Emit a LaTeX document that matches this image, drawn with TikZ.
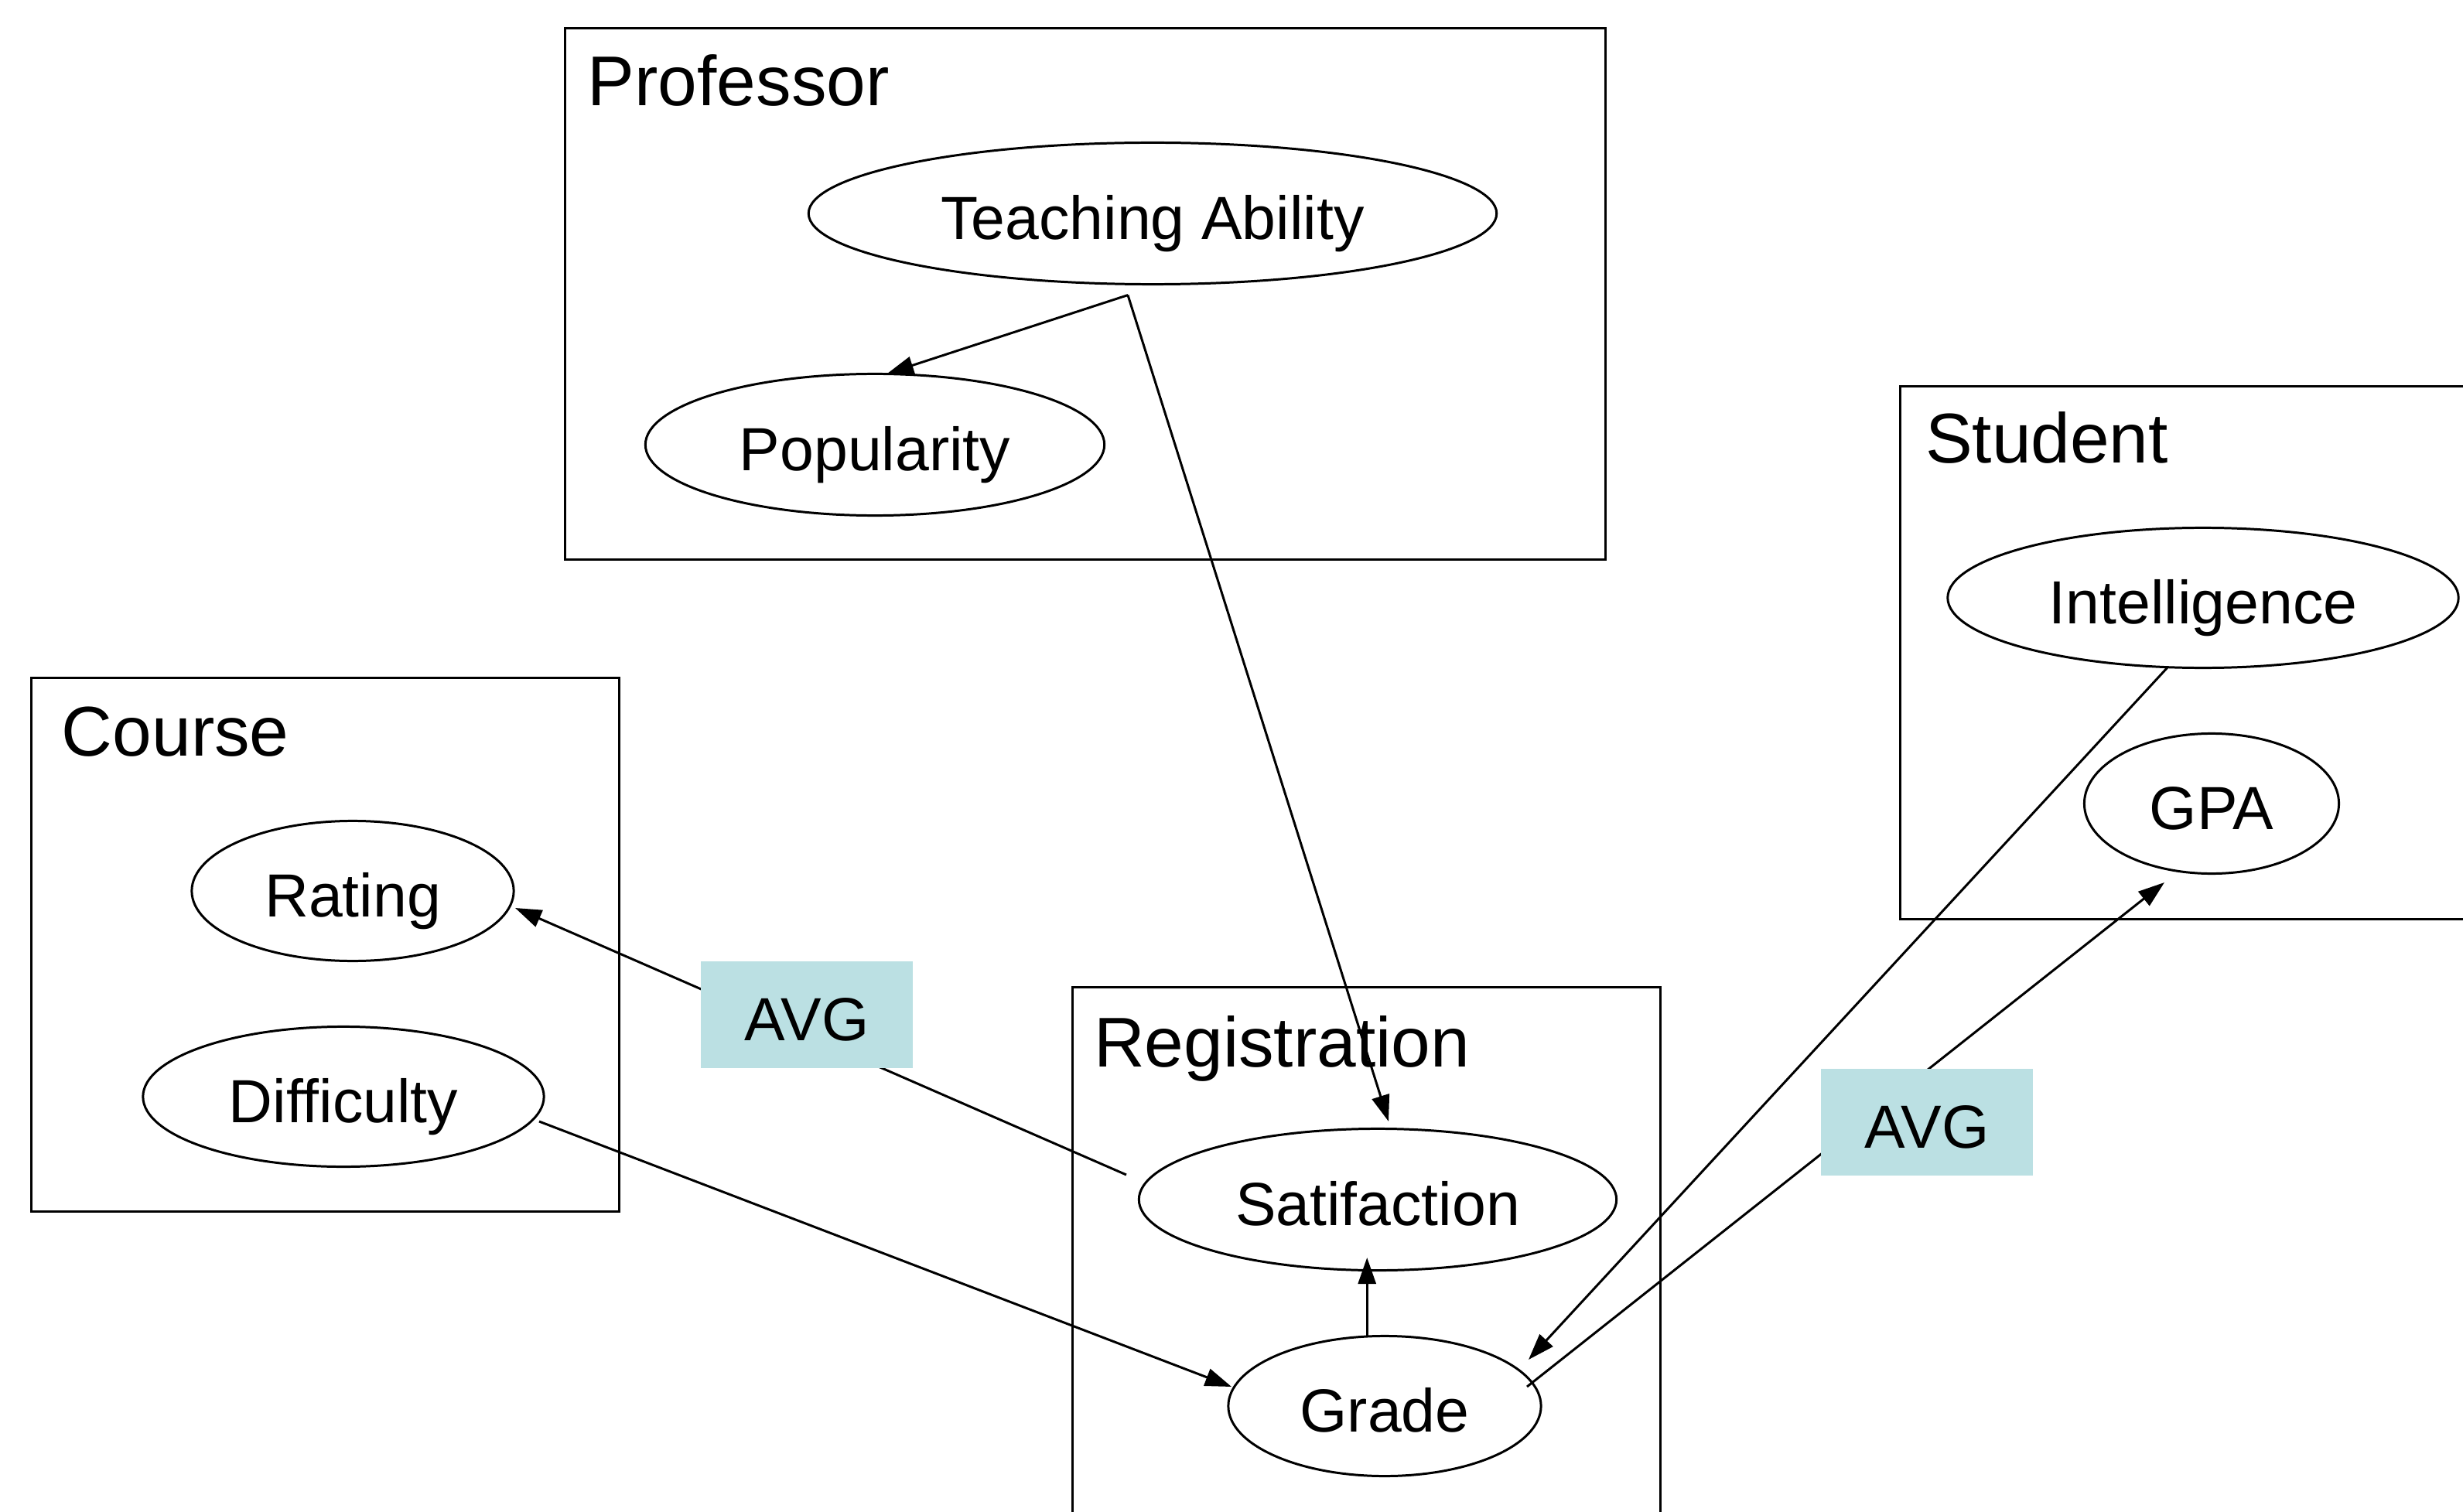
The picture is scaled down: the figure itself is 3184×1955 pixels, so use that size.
\documentclass[tikz,border=0pt]{standalone}
\usepackage{fontspec}
\setmainfont{Liberation Sans}
\usetikzlibrary{shapes.geometric,arrows.meta,calc}
\definecolor{avgfill}{RGB}{187,224,227}
\begin{document}
\begin{tikzpicture}[x=0.01cm,y=-0.01cm,
  box/.style={draw,line width=0.85pt,rectangle,inner sep=0pt},
  title/.style={anchor=base west,inner sep=0pt,font=\fontsize{25.9}{31}\selectfont},
  var/.style={draw,ellipse,line width=0.85pt,inner sep=0pt,text height=0.66cm,text depth=0pt,font=\fontsize{22.4}{27}\selectfont},
  avg/.style={fill=avgfill,inner sep=0pt,text height=0.66cm,text depth=0pt,minimum width=2.74cm,minimum height=1.38cm,font=\fontsize{22.4}{27}\selectfont},
  arr/.style={line width=0.85pt,-{Triangle[length=0.34cm,width=0.23cm]}}]
\useasboundingbox (0,0) rectangle (3184,1955);
\fill[white] (0,0) rectangle (3184,1955);
% plates
\node[box,minimum width=13.44cm,minimum height=6.86cm] (prof) at (1403,380) {};
\node[box,minimum width=7.59cm,minimum height=6.89cm] (course) at (420.5,1221.5) {};
\node[box,minimum width=8cm,minimum height=6.88cm] (stud) at (2857,844) {};
\node[box,minimum width=7.59cm,minimum height=7.4cm] (reg) at (1766.5,1647) {};
\node[title] (profT) at ($(prof.north west)+(30,101)$) {Professor};
\node[title] (courseT) at ($(course.north west)+(40,102)$) {Course};
\node[title] (studT) at ($(stud.north west)+(33,100)$) {Student};
\node[title] (regT) at ($(reg.north west)+(28,104)$) {Registration};
% variables
\node[var,minimum width=8.89cm,minimum height=1.83cm] (ta) at (1490,276) {Teaching Ability};
\node[var,minimum width=5.93cm,minimum height=1.83cm] (pop) at (1131,575) {Popularity};
\node[var,minimum width=6.60cm,minimum height=1.81cm] (int) at (2848,773) {Intelligence};
\node[var,minimum width=3.29cm,minimum height=1.81cm] (gpa) at (2859,1039) {GPA};
\node[var,minimum width=4.16cm,minimum height=1.81cm] (rat) at (456,1152) {Rating};
\node[var,minimum width=5.18cm,minimum height=1.81cm] (diff) at (444,1418) {Difficulty};
\node[var,minimum width=6.17cm,minimum height=1.83cm] (sat) at (1781,1551) {Satifaction};
\node[var,minimum width=4.04cm,minimum height=1.81cm] (grade) at (1790,1818) {Grade};
% connectors
\coordinate (tasrc) at ($(ta.south)+(-32,12.5)$);
\draw[arr] (tasrc) -- ($(pop.center)+(16,-92)$);
\draw[arr] (tasrc) -- ($(sat.center)+(14,-101)$);
\draw[arr] (grade.104) -- ($(grade.104 |- sat.south)+(0,-18)$);
\draw[arr] ($(sat.center)+(-325,-32)$) -- ($(rat.center)+(210,22)$);
\draw[arr] ($(diff.center)+(253,32)$) -- ($(grade.center)+(-198,-25)$);
\draw[arr] ($(int.center)+(-46,90)$) -- ($(grade.center)+(186,-60)$);
\draw[arr] ($(grade.center)+(184,-25)$) -- ($(gpa.center)+(-61,102)$);
% aggregators
\node[avg] (avg1) at (1043,1312) {AVG};
\node[avg] (avg2) at (2491,1451) {AVG};
\end{tikzpicture}
\end{document}
